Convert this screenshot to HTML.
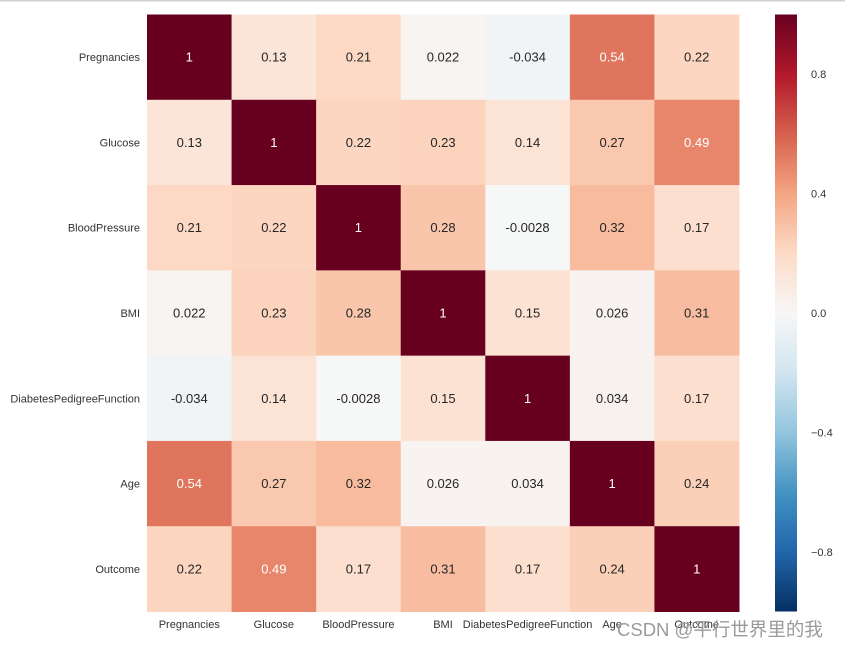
<!DOCTYPE html>
<html><head><meta charset="utf-8">
<style>
body{margin:0;background:#fff;}
svg text{font-family:"Liberation Sans","Noto Sans CJK SC",sans-serif;}
</style></head>
<body>
<svg id="c" width="845" height="648" xmlns="http://www.w3.org/2000/svg">
<rect x="0" y="0" width="845" height="1.5" fill="#d0d0d0"/>
<defs>
<linearGradient id="cg" x1="0" y1="1" x2="0" y2="0">
<stop offset="0" stop-color="#053061"/><stop offset="0.1" stop-color="#2166ac"/><stop offset="0.2" stop-color="#4393c3"/><stop offset="0.3" stop-color="#92c5de"/><stop offset="0.4" stop-color="#d1e5f0"/><stop offset="0.5" stop-color="#f7f7f7"/><stop offset="0.6" stop-color="#fddbc7"/><stop offset="0.7" stop-color="#f4a582"/><stop offset="0.8" stop-color="#d6604d"/><stop offset="0.9" stop-color="#b2182b"/><stop offset="1" stop-color="#67001f"/>
</linearGradient>
</defs>
<g id="cells"></g>
<rect x="775" y="14.5" width="22" height="597" fill="url(#cg)"/>
<g id="cbticks"></g>
<text x="617" y="636" font-size="18.5" fill="#9a9a9a">CSDN @平行世界里的我</text>
</svg>
<script>
const labels=["Pregnancies","Glucose","BloodPressure","BMI","DiabetesPedigreeFunction","Age","Outcome"];
const row0=[1,0.13,0.21,0.022,-0.034,0.54,0.22];
const row1=[0.13,1,0.22,0.23,0.14,0.27,0.49];
const row2=[0.21,0.22,1,0.28,-0.0028,0.32,0.17];
const row3=[0.022,0.23,0.28,1,0.15,0.026,0.31];
const row4=[-0.034,0.14,-0.0028,0.15,1,0.034,0.17];
const row5=[0.54,0.27,0.32,0.026,0.034,1,0.24];
const row6=[0.22,0.49,0.17,0.31,0.17,0.24,1];
const matrix=[row0,row1,row2,row3,row4,row5,row6];
const cbTicks=[0.8,0.4,0.0,-0.4,-0.8];
const cbLabels=["0.8","0.4","0.0","\u22120.4","\u22120.8"];

const NS="http://www.w3.org/2000/svg";
const X0=147,X1=739,Y0=14.5,Y1=611.5;
const cw=(X1-X0)/labels.length,ch=(Y1-Y0)/labels.length;
const xs=i=>X0+i*cw, ys=j=>Y0+j*ch;
const cbY=v=>Y0+(1-v)/2*(Y1-Y0);
const stops=[[5,48,97],[33,102,172],[67,147,195],[146,197,222],[209,229,240],[247,247,247],[253,219,199],[244,165,130],[214,96,77],[178,24,43],[103,0,31]];
function color(v){let t=(v+1)/2*10;t=Math.max(0,Math.min(10,t));const i=Math.min(9,Math.floor(t)),f=t-i;const a=stops[i],b=stops[i+1];return `rgb(${a.map((c,k)=>Math.round(c+(b[k]-c)*f)).join(',')})`;}
function fmt(v){return String(v);}
const g=document.getElementById('cells');
matrix.forEach((row,j)=>row.forEach((v,i)=>{
 const r=document.createElementNS(NS,'rect');
 r.setAttribute('x',xs(i));r.setAttribute('y',ys(j));r.setAttribute('width',cw+0.5);r.setAttribute('height',ch+0.5);r.setAttribute('fill',color(v));
 
 
 g.appendChild(r);
 const t=document.createElementNS(NS,'text');
 t.setAttribute('x',xs(i)+cw/2);t.setAttribute('y',ys(j)+ch/2+4.5);t.setAttribute('text-anchor','middle');t.setAttribute('font-size','13');
 t.setAttribute('fill',v>0.45?'#ffffff':'#262626');t.textContent=fmt(v);
 
 
 g.appendChild(t);
}));
labels.forEach((l,j)=>{
 const t=document.createElementNS(NS,'text');
 t.setAttribute('x',140);t.setAttribute('y',ys(j)+ch/2+4);t.setAttribute('text-anchor','end');t.setAttribute('font-size','11');t.setAttribute('fill','#333');t.textContent=l;
 
 
 g.appendChild(t);
 const u=document.createElementNS(NS,'text');
 u.setAttribute('x',xs(j)+cw/2);u.setAttribute('y',628);u.setAttribute('text-anchor','middle');u.setAttribute('font-size','11');u.setAttribute('fill','#333');u.textContent=l;
 
 
 g.appendChild(u);
});
const cb=document.getElementById('cbticks');
cbTicks.forEach((v,k)=>{
 const t=document.createElementNS(NS,'text');
 t.setAttribute('x',811);t.setAttribute('y',cbY(v)+4);t.setAttribute('font-size','11');t.setAttribute('fill','#333');t.textContent=cbLabels[k];
 
 
 cb.appendChild(t);
});
</script>
</body></html>
